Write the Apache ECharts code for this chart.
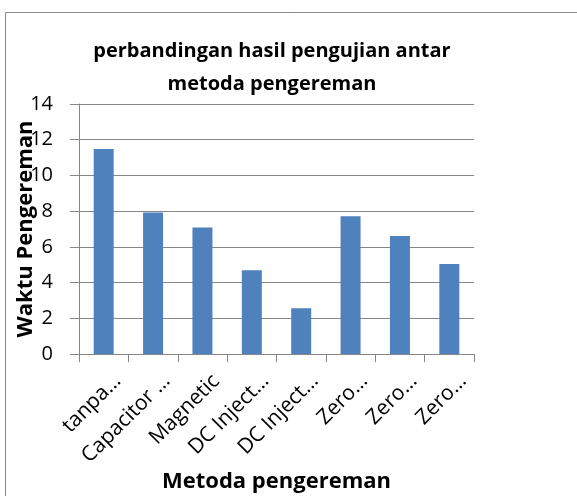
<!DOCTYPE html>
<html>
<head>
<meta charset="utf-8">
<script src="https://cdn.jsdelivr.net/npm/echarts@6/dist/echarts.min.js"></script>
<style>
  html, body { margin: 0; padding: 0; background: #ffffff; }
  #chart { width: 577px; height: 496px; }
</style>
</head>
<body>
<div id="chart"></div>
<script>
// Braking methods compared (category labels as shown on the axis)
const categories = ['tanpa…', 'Capacitor …', 'Magnetic', 'DC Inject…', 'DC Inject…', 'Zero…', 'Zero…', 'Zero…'];
// Braking time for each method
const brakingTime = [11.48, 7.92, 7.09, 4.69, 2.56, 7.71, 6.61, 5.04];
// Value axis ticks
const yMin = 0;
const yMax = 14;
const yStep = 2;

const titleText = 'perbandingan hasil pengujian antar\nmetoda pengereman';
const yName = 'Waktu Pengereman';
const xName = 'Metoda pengereman';

const FONT = '"Open Sans", sans-serif';
const chart = echarts.init(document.getElementById('chart'), null, { renderer: 'canvas' });

chart.setOption({
  animation: false,
  backgroundColor: '#ffffff',
  graphic: [{
    type: 'rect',
    shape: { x: 5.5, y: 12.5, width: 620, height: 520 },
    style: { fill: 'none', stroke: '#8c8c8c', lineWidth: 1 },
    silent: true,
    z: -1
  }],
  title: {
    text: titleText,
    left: 267,
    top: 30,
    textAlign: 'center',
    textStyle: {
      fontFamily: FONT,
      fontWeight: 'bold',
      fontSize: 20,
      lineHeight: 33,
      color: '#000000'
    }
  },
  grid: {
    left: 79, right: 103, top: 104, bottom: 142,
    containLabel: false,
    outerBoundsMode: 'none'
  },
  xAxis: {
    type: 'category',
    data: categories,
    name: xName,
    nameLocation: 'middle',
    nameGap: 117,
    nameMoveOverlap: false,
    nameTextStyle: { fontFamily: FONT, fontWeight: 'bold', fontSize: 22, color: '#000000' },
    axisLine: { lineStyle: { color: '#868686', width: 1 } },
    axisTick: { show: true, alignWithLabel: false, length: 8, lineStyle: { color: '#868686' } },
    axisLabel: {
      interval: 0,
      rotate: 45,
      margin: 10,
      verticalAlign: 'top',
      lineHeight: 39,
      fontFamily: FONT,
      fontSize: 21,
      color: '#000000'
    },
    splitLine: { show: false }
  },
  yAxis: {
    type: 'value',
    min: yMin,
    max: yMax,
    interval: yStep,
    name: yName,
    nameLocation: 'middle',
    nameGap: 42,
    nameRotate: 90,
    nameMoveOverlap: false,
    nameTextStyle: { fontFamily: FONT, fontWeight: 'bold', fontSize: 22, color: '#000000' },
    axisLine: { show: true, lineStyle: { color: '#868686', width: 1 } },
    axisTick: { show: true, length: 9, lineStyle: { color: '#868686' } },
    axisLabel: {
      margin: 26,
      fontFamily: FONT,
      fontSize: 20,
      color: '#000000'
    },
    splitLine: { show: true, lineStyle: { color: '#868686', width: 1 } }
  },
  series: [{
    type: 'bar',
    data: brakingTime,
    barWidth: 20,
    itemStyle: { color: '#4F81BD' }
  }]
});
</script>
</body>
</html>
